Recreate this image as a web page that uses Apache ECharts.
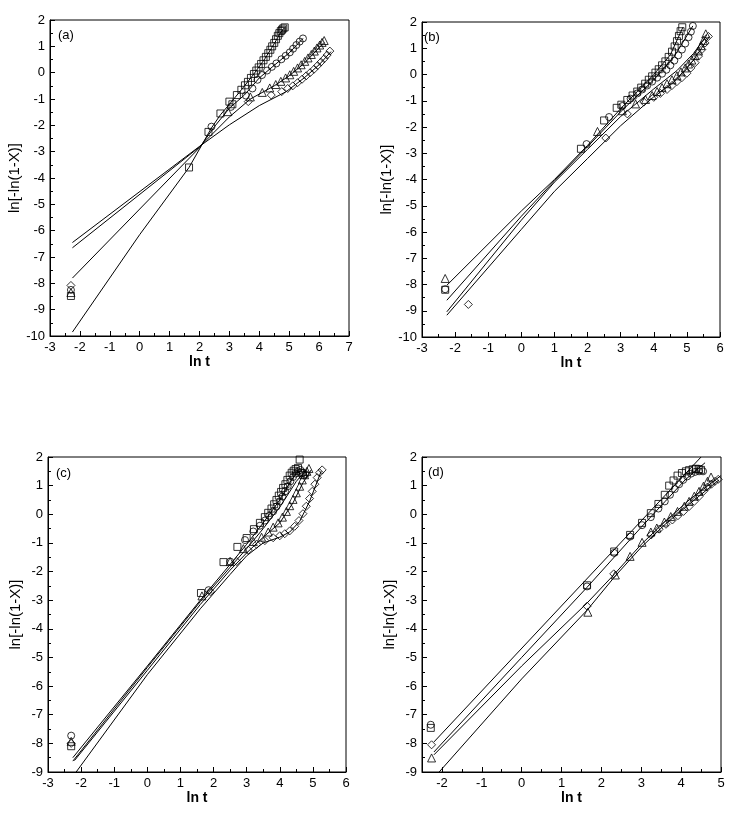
<!DOCTYPE html>
<html><head><meta charset="utf-8">
<script src="https://cdn.jsdelivr.net/npm/echarts@6/dist/echarts.min.js"></script>
<style>html,body{margin:0;padding:0;background:#fff}#c{width:739px;height:816px}</style>
</head><body><div id="c"></div>
<script>
// ---------- Panel (a) ----------
const a_square = [[-2.3,-8.48],[1.65,-3.6],[2.3,-2.25],[2.7,-1.55],[3.0,-1.1],[3.1,-1.2],[3.25,-0.85],[3.4,-0.65],[3.52,-0.48],[3.62,-0.35],[3.72,-0.2],[3.82,-0.05],[3.9,0.08],[3.98,0.2],[4.06,0.33],[4.14,0.47],[4.22,0.6],[4.3,0.74],[4.37,0.87],[4.43,1.0],[4.5,1.13],[4.56,1.27],[4.62,1.4],[4.67,1.5],[4.72,1.58],[4.76,1.63],[4.8,1.68],[4.85,1.72]];
const a_circle = [[-2.3,-8.25],[2.4,-2.05],[3.05,-1.3],[3.55,-0.87],[3.77,-0.6],[3.94,-0.27],[4.09,-0.09],[4.26,0.08],[4.42,0.22],[4.57,0.35],[4.74,0.51],[4.88,0.64],[5.02,0.77],[5.13,0.91],[5.24,1.05],[5.35,1.18],[5.46,1.3]];
const a_triangle = [[-2.3,-8.35],[2.95,-1.48],[3.7,-0.92],[4.1,-0.75],[4.35,-0.58],[4.55,-0.45],[4.72,-0.33],[4.88,-0.2],[5.02,-0.08],[5.15,0.05],[5.28,0.18],[5.4,0.3],[5.52,0.43],[5.63,0.56],[5.74,0.69],[5.84,0.82],[5.93,0.94],[6.02,1.05],[6.1,1.15],[6.17,1.22]];
const a_diamond = [[-2.3,-8.08],[3.63,-1.1],[4.4,-0.85],[4.75,-0.72],[4.95,-0.6],[5.12,-0.5],[5.28,-0.38],[5.43,-0.25],[5.57,-0.12],[5.7,0.0],[5.83,0.13],[5.95,0.27],[6.06,0.4],[6.17,0.53],[6.27,0.67],[6.36,0.82]];
const a_fit1 = [[-2.25,-9.85],[0,-6.15],[1.65,-3.6],[2.0,-2.9],[2.4,-2.1],[2.7,-1.6],[3.0,-1.2],[3.4,-0.65],[3.8,-0.08],[4.2,0.55],[4.5,1.1],[4.7,1.5],[4.85,1.72]];
const a_fit2 = [[-2.25,-7.8],[2.0,-2.85],[2.5,-2.05],[3.0,-1.35],[3.5,-0.85],[4.0,-0.2],[4.5,0.28],[5.0,0.75],[5.46,1.3]];
const a_fit3 = [[-2.25,-6.65],[2.0,-2.82],[3.0,-1.68],[3.7,-1.0],[4.5,-0.5],[5.0,-0.12],[5.5,0.35],[6.17,1.15]];
const a_fit4 = [[-2.25,-6.45],[2.0,-2.8],[3.0,-1.98],[4.0,-1.25],[4.9,-0.72],[5.5,-0.2],[6.0,0.3],[6.4,0.8]];

// ---------- Panel (b) ----------
const b_square = [[-2.3,-8.2],[1.8,-2.83],[2.5,-1.75],[2.88,-1.27],[3.02,-1.15],[3.2,-0.97],[3.36,-0.8],[3.5,-0.65],[3.62,-0.5],[3.74,-0.35],[3.85,-0.2],[3.95,-0.07],[4.05,0.07],[4.15,0.2],[4.25,0.35],[4.35,0.5],[4.45,0.67],[4.55,0.87],[4.63,1.07],[4.7,1.27],[4.76,1.47],[4.81,1.65],[4.86,1.8]];
const b_circle = [[-2.3,-8.18],[1.97,-2.65],[2.65,-1.62],[3.05,-1.2],[3.3,-0.92],[3.5,-0.72],[3.65,-0.57],[3.8,-0.42],[3.95,-0.27],[4.1,-0.12],[4.25,0.03],[4.38,0.18],[4.5,0.35],[4.62,0.53],[4.74,0.73],[4.85,0.95],[4.95,1.18],[5.05,1.42],[5.12,1.63],[5.18,1.85]];
const b_triangle = [[-2.3,-7.77],[2.3,-2.17],[3.05,-1.38],[3.45,-1.12],[3.75,-0.95],[3.95,-0.8],[4.1,-0.65],[4.25,-0.5],[4.4,-0.35],[4.55,-0.2],[4.7,-0.05],[4.82,0.1],[4.95,0.25],[5.05,0.4],[5.15,0.55],[5.25,0.72],[5.35,0.9],[5.43,1.1],[5.5,1.3],[5.57,1.55]];
const b_diamond = [[-1.6,-8.76],[2.55,-2.42],[3.2,-1.5],[3.7,-1.05],[4.0,-0.87],[4.2,-0.72],[4.4,-0.57],[4.55,-0.42],[4.7,-0.27],[4.85,-0.12],[5.0,0.05],[5.12,0.25],[5.25,0.45],[5.35,0.7],[5.45,0.95],[5.55,1.2],[5.65,1.45]];
const b_fit1 = [[-2.25,-8.03],[0,-5.2],[1.0,-4.0],[2.0,-2.7],[3.0,-1.3],[4.0,0.0],[4.5,0.75],[4.88,1.8]];
const b_fit2 = [[-2.25,-8.6],[0,-5.4],[1.0,-4.05],[2.0,-2.75],[3.0,-1.42],[4.0,-0.2],[4.6,0.65],[5.18,1.85]];
const b_fit3 = [[-2.25,-9.04],[0,-5.55],[1.0,-4.1],[2.0,-2.85],[3.0,-1.6],[4.0,-0.55],[4.7,0.15],[5.2,0.8],[5.6,1.5]];
const b_fit4 = [[-2.25,-9.17],[0,-5.9],[1.0,-4.45],[2.0,-3.2],[3.0,-1.95],[4.0,-0.85],[4.6,-0.3],[5.2,0.55],[5.68,1.45]];

// ---------- Panel (c) ----------
const c_square = [[-2.3,-8.1],[1.62,-2.75],[2.3,-1.67],[2.72,-1.14],[3.0,-0.83],[3.22,-0.52],[3.4,-0.3],[3.55,-0.1],[3.65,0.05],[3.75,0.2],[3.83,0.35],[3.9,0.5],[3.97,0.65],[4.04,0.78],[4.1,0.92],[4.17,1.05],[4.23,1.2],[4.3,1.35],[4.36,1.45],[4.42,1.52],[4.48,1.58],[4.55,1.62],[4.6,1.91],[4.65,1.45],[4.7,1.38]];
const c_circle = [[-2.3,-7.73],[1.85,-2.65],[2.5,-1.65],[2.95,-0.9],[3.2,-0.6],[3.4,-0.4],[3.55,-0.22],[3.68,-0.05],[3.8,0.1],[3.9,0.27],[4.0,0.45],[4.08,0.62],[4.16,0.8],[4.24,0.98],[4.32,1.15],[4.4,1.3],[4.48,1.42],[4.55,1.5],[4.62,1.55],[4.7,1.45],[4.78,1.4]];
const c_triangle = [[-2.3,-7.93],[1.65,-2.85],[2.5,-1.65],[2.9,-1.2],[3.2,-0.95],[3.45,-0.8],[3.65,-0.62],[3.8,-0.45],[3.95,-0.3],[4.08,-0.1],[4.2,0.1],[4.3,0.3],[4.4,0.52],[4.5,0.75],[4.6,0.98],[4.68,1.2],[4.75,1.38],[4.82,1.5],[4.88,1.6]];
const c_diamond = [[-2.3,-8.0],[1.9,-2.7],[2.7,-1.65],[3.05,-1.25],[3.3,-1.05],[3.55,-0.92],[3.8,-0.82],[4.0,-0.75],[4.15,-0.68],[4.3,-0.58],[4.45,-0.42],[4.58,-0.22],[4.7,0.02],[4.8,0.28],[4.9,0.55],[4.98,0.8],[5.06,1.05],[5.13,1.28],[5.2,1.45],[5.28,1.55]];
const c_fit1 = [[-2.25,-8.5],[0,-5.3],[1.6,-3.0],[2.5,-1.75],[3.0,-1.05],[3.5,-0.3],[4.0,0.5],[4.3,1.1],[4.6,1.6]];
const c_fit2 = [[-2.25,-8.62],[0,-5.35],[1.6,-3.05],[2.5,-1.85],[3.0,-1.2],[3.5,-0.5],[4.0,0.25],[4.5,1.15],[4.8,1.55]];
const c_fit3 = [[-2.2,-8.6],[0,-5.45],[1.6,-3.15],[2.5,-1.95],[3.0,-1.35],[3.5,-0.8],[4.0,-0.3],[4.4,0.4],[4.7,1.1],[4.95,1.55]];
const c_fit4 = [[-2.15,-9.0],[0,-5.6],[1.6,-3.3],[2.5,-2.1],[3.0,-1.45],[3.5,-1.0],[4.0,-0.8],[4.3,-0.62],[4.6,-0.25],[4.9,0.45],[5.25,1.5]];

// ---------- Panel (d) ----------
const d_square = [[-2.28,-7.46],[1.64,-2.48],[2.32,-1.3],[2.72,-0.72],[3.02,-0.3],[3.24,0.04],[3.43,0.36],[3.59,0.68],[3.7,1.0],[3.81,1.18],[3.91,1.35],[4.02,1.44],[4.12,1.5],[4.2,1.54],[4.29,1.57],[4.37,1.59],[4.44,1.58],[4.5,1.55]];
const d_circle = [[-2.28,-7.35],[1.64,-2.52],[2.32,-1.35],[2.72,-0.78],[3.02,-0.38],[3.24,-0.1],[3.43,0.2],[3.59,0.45],[3.72,0.68],[3.84,0.88],[3.95,1.05],[4.05,1.2],[4.15,1.32],[4.25,1.42],[4.35,1.48],[4.45,1.5],[4.55,1.5]];
const d_triangle = [[-2.26,-8.51],[1.66,-3.42],[2.35,-2.12],[2.72,-1.47],[3.02,-0.98],[3.24,-0.62],[3.39,-0.48],[3.58,-0.27],[3.74,-0.08],[3.91,0.1],[4.08,0.28],[4.2,0.45],[4.33,0.63],[4.45,0.8],[4.56,0.98],[4.66,1.15],[4.75,1.3]];
const d_diamond = [[-2.26,-8.05],[1.64,-3.21],[2.31,-2.08],[3.25,-0.72],[3.45,-0.52],[3.62,-0.35],[3.78,-0.2],[3.92,-0.05],[4.06,0.1],[4.2,0.27],[4.33,0.45],[4.45,0.62],[4.56,0.8],[4.66,0.95],[4.76,1.05],[4.85,1.15],[4.93,1.22]];
const d_fit1 = [[-2.2,-7.95],[4.5,2.0]];
const d_fit2 = [[-2.2,-8.3],[0,-5.0],[1.64,-2.55],[3.0,-0.45],[3.6,0.45],[4.1,1.2],[4.6,1.8]];
const d_fit3 = [[-2.2,-8.4],[0,-5.3],[1.64,-3.1],[2.32,-2.1],[3.0,-1.05],[3.6,-0.25],[4.2,0.5],[5.0,1.35]];
const d_fit4 = [[-2.07,-9.0],[0,-5.75],[1.64,-3.35],[2.35,-2.15],[3.0,-1.15],[3.6,-0.35],[4.2,0.35],[4.95,1.2]];

// ---------- axis ranges / labels ----------
const panelLabels = ['(a)','(b)','(c)','(d)'];
const xRanges = [[-3,7],[-3,6],[-3,6],[-2.5,5]];
const yRanges = [[-10,2],[-10,2],[-9,2],[-9,2]];
const dXLabelValues = [-2,-1,0,1,2,3,4,5];
const dXMinorValues = [-2.5,-1.5,-0.5,0.5,1.5,2.5,3.5,4.5];
const xTitle = 'ln t';
const yTitle = 'ln[-ln(1-X)]';

const scatterSets = [
  [a_square,a_circle,a_triangle,a_diamond],
  [b_square,b_circle,b_triangle,b_diamond],
  [c_square,c_circle,c_triangle,c_diamond],
  [d_square,d_circle,d_triangle,d_diamond]
];
const fitSets = [
  [a_fit1,a_fit2,a_fit3,a_fit4],
  [b_fit1,b_fit2,b_fit3,b_fit4],
  [c_fit1,c_fit2,c_fit3,c_fit4],
  [d_fit1,d_fit2,d_fit3,d_fit4]
];

// layout
const grids = [
  {left:50, top:20, width:299, height:316},
  {left:422, top:22, width:298, height:315},
  {left:48, top:457, width:298, height:315},
  {left:422, top:457, width:299, height:315}
];
const xNameGaps = [19, 10, 12, 17];
const symbols = ['rect','circle','triangle','diamond'];
const symbolSizes = [7,7,8,8];
const FONT = 'Liberation Sans, Arial, sans-serif';
const black = '#000';

const xAxes = [], yAxes = [], series = [], graphics = [];
grids.forEach((g, i) => {
  const isD = i === 3;
  const xa = {
    gridIndex:i, type:'value', min:xRanges[i][0], max:xRanges[i][1],
    interval: isD ? 0.5 : 1,
    axisLine:{show:true, onZero:false, lineStyle:{color:black, width:1}},
    axisTick:{show:true, inside:true, length:5, lineStyle:{color:black, width:1}},
    minorTick:{show:!isD, splitNumber:2, length:3, lineStyle:{color:black, width:1}},
    splitLine:{show:false},
    axisLabel:{color:black, fontSize:13, fontFamily:FONT, margin:5, showMinLabel:true, showMaxLabel:true},
    name:xTitle, nameLocation:'middle', nameGap:xNameGaps[i],
    nameTextStyle:{color:black, fontSize:14, fontWeight:'bold', fontFamily:FONT}
  };
  if (isD) {
    xa.axisLabel.customValues = dXLabelValues;
    xa.axisTick.customValues = dXLabelValues;
  }
  xAxes.push(xa);
  yAxes.push({
    gridIndex:i, type:'value', min:yRanges[i][0], max:yRanges[i][1], interval:1,
    axisLine:{show:true, onZero:false, lineStyle:{color:black, width:1}},
    axisTick:{show:true, inside:true, length:5, lineStyle:{color:black, width:1}},
    minorTick:{show:true, splitNumber:2, length:3, lineStyle:{color:black, width:1}},
    splitLine:{show:false},
    axisLabel:{color:black, fontSize:13, fontFamily:FONT, margin:5, showMinLabel:true, showMaxLabel:true},
    name:yTitle, nameLocation:'middle', nameGap:25,
    nameTextStyle:{color:black, fontSize:15, fontFamily:FONT}
  });
  fitSets[i].forEach(f => series.push({
    type:'line', xAxisIndex:i, yAxisIndex:i, data:f, showSymbol:false, symbol:'none',
    lineStyle:{color:black, width:1}, silent:true, animation:false, z:2
  }));
  scatterSets[i].forEach((s, k) => series.push({
    type:'scatter', xAxisIndex:i, yAxisIndex:i, data:s, symbol:symbols[k], symbolSize:symbolSizes[k],
    itemStyle:{color:'rgba(255,255,255,0)', borderColor:black, borderWidth:1}, animation:false, z:3
  }));
  graphics.push({
    type:'text', left:g.left + (i===1 ? 2 : (i===3 ? 6 : 8)), top:g.top + (i===2 ? 10 : 9),
    style:{text:panelLabels[i], fill:black, font:'13px ' + FONT}
  });
});
// extra axis for the half-unit ticks of panel (d)
xAxes.push({
  gridIndex:3, type:'value', min:xRanges[3][0], max:xRanges[3][1], position:'bottom', interval:0.5,
  axisLine:{show:false, onZero:false}, splitLine:{show:false}, axisLabel:{show:false},
  axisTick:{show:true, inside:true, length:3, customValues:dXMinorValues, lineStyle:{color:black, width:1}}
});

const chart = echarts.init(document.getElementById('c'), null, {renderer:'canvas'});
chart.setOption({
  backgroundColor:'#fff',
  animation:false,
  grid: grids.map(g => Object.assign({show:true, borderColor:black, borderWidth:1, backgroundColor:'transparent', containLabel:false}, g)),
  xAxis: xAxes,
  yAxis: yAxes,
  series: series,
  graphic: graphics
});
</script>
</body></html>
